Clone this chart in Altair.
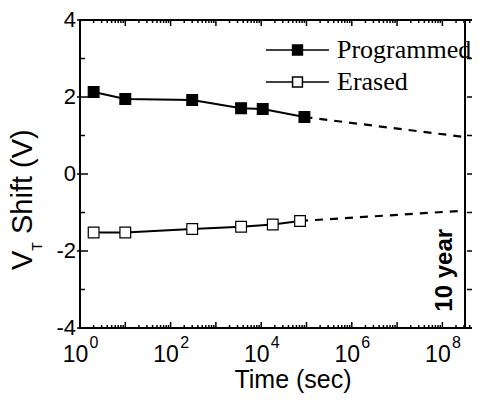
import altair as alt
import pandas as pd

# ---------------- data ----------------
series = ["Programmed", "Erased"]
prog_t = [2, 10, 300, 3600, 10800, 90000]
prog_v = [2.13, 1.95, 1.92, 1.71, 1.69, 1.48]
eras_t = [2, 10, 300, 3600, 18000, 72000]
eras_v = [-1.52, -1.52, -1.43, -1.37, -1.31, -1.22]
ten_year = 3.156e8                      # 10 years in seconds
extrap_prog = 0.96                      # dashed extrapolation end values
extrap_eras = -0.95
ten_year_label = "10 year"
ten_year_label_v = -2.5

x_title = "Time (sec)"
x_label_exps = [0, 2, 4, 6, 8]
x_decade_exps = [0, 1, 2, 3, 4, 5, 6, 7, 8]
minor_mult = [2, 3, 4, 5, 6, 7, 8, 9]
y_major = [-4, -2, 0, 2, 4]
y_labels = ["-4", "-2", "0", "2", "4"]
y_minor = [-3, -1, 1, 3]
y_right = [-3, -2, -1, 0, 1, 2, 3]
y_range = [-4, 4]

# ---------------- layout ----------------
W, H = 392, 308
DECADE = 45.3
X_MAX = 10 ** (W / DECADE)
FONT = "Liberation Sans"
SERIF = "Liberation Serif"

xs = alt.Scale(type="log", domain=[1, X_MAX], nice=False)
ys = alt.Scale(domain=y_range, nice=False, zero=False)

pts = pd.DataFrame({
    "t": prog_t + eras_t,
    "v": prog_v + eras_v,
    "series": [series[0]] * len(prog_t) + [series[1]] * len(eras_t),
})
ext = pd.DataFrame({
    "t": [prog_t[-1], ten_year, eras_t[-1], ten_year],
    "v": [prog_v[-1], extrap_prog, eras_v[-1], extrap_eras],
    "series": [series[0], series[0], series[1], series[1]],
})

X0 = lambda: alt.X("t:Q", scale=xs, axis=None)
Y0 = lambda: alt.Y("v:Q", scale=ys, axis=None)

lines = alt.Chart(pts).mark_line(color="black", strokeWidth=2).encode(
    x=X0(), y=Y0(), detail="series:N")

dashed = alt.Chart(ext).mark_line(color="black", strokeWidth=2.2, strokeDash=[8, 7]).encode(
    x=X0(), y=Y0(), detail="series:N")

LEG_PATH = "M-1.85,0H-0.29M0.29,0H1.85M-0.29,-0.29H0.29V0.29H-0.29Z"
points = alt.Chart(pts).mark_point(shape="square", filled=True, size=115, stroke="black",
                                   strokeWidth=1.2, opacity=1).encode(
    x=X0(), y=Y0(),
    fill=alt.Fill("series:N", scale=alt.Scale(domain=series, range=["black", "white"]),
                  legend=alt.Legend(title=None, orient="none", legendX=199.5, legendY=12,
                                    symbolType=LEG_PATH, symbolSize=1156,
                                    symbolStrokeColor="black", symbolStrokeWidth=1.5,
                                    symbolOpacity=1,
                                    labelFont=SERIF, labelFontSize=26, labelColor="black",
                                    labelOffset=21.5, rowPadding=1, padding=0)),
)

# ---------------- frame, ticks ----------------
xdec = pd.DataFrame({"t": [10 ** e for e in x_decade_exps]})
xmin = pd.DataFrame({"t": [m * 10 ** e for e in x_decade_exps for m in minor_mult
                           if m * 10 ** e <= X_MAX]})
ymaj = pd.DataFrame({"v": y_major, "label": y_labels})
one = pd.DataFrame({"a": [0]})


def ytick_segments(values, px_from, px_to):
    """Short horizontal tick segments at given y values, spanning pixel offsets on the log x scale."""
    rows = []
    for v in values:
        for px in (px_from, px_to):
            rows.append({"t": 10 ** (px / DECADE), "v": v, "g": v})
    return pd.DataFrame(rows)


fr = dict(color="black", strokeWidth=2)
left_dom = alt.Chart(one).mark_rule(**fr).encode(x=alt.value(0), y=alt.value(-1), y2=alt.value(H + 1))
bot_dom = alt.Chart(one).mark_rule(**fr).encode(y=alt.value(H), x=alt.value(-1), x2=alt.value(W))
top_dom = alt.Chart(one).mark_rule(**fr).encode(y=alt.value(0), x=alt.value(-1), x2=alt.value(W))

tk = dict(color="black", strokeWidth=1.5)
bot_major = alt.Chart(xdec).mark_rule(**tk).encode(x=X0(), y=alt.value(H), y2=alt.value(H - 6))
bot_minor = alt.Chart(xmin).mark_rule(**tk).encode(x=X0(), y=alt.value(H), y2=alt.value(H - 3))
top_major = alt.Chart(xdec).mark_rule(**tk).encode(x=X0(), y=alt.value(0), y2=alt.value(6))
top_minor = alt.Chart(xmin).mark_rule(**tk).encode(x=X0(), y=alt.value(0), y2=alt.value(3))
left_major = alt.Chart(ytick_segments(y_major, -3, 8)).mark_line(**tk).encode(
    x=X0(), y=Y0(), detail="g:N")
left_minor = alt.Chart(ytick_segments(y_minor, 0, 5)).mark_line(**tk).encode(
    x=X0(), y=Y0(), detail="g:N")
right_t = alt.Chart(ytick_segments(y_right, W - 5, W)).mark_line(**tk).encode(
    x=X0(), y=Y0(), detail="g:N")

# ---------------- 10 year marker ----------------
ty_seg = pd.DataFrame({"t": [ten_year, ten_year], "v": y_range})
ty_line = alt.Chart(ty_seg).mark_line(color="black", strokeWidth=2).encode(x=X0(), y=Y0())
ty = pd.DataFrame({"t": [ten_year], "v": [ten_year_label_v], "label": [ten_year_label]})
ty_text = alt.Chart(ty).mark_text(angle=270, align="center", baseline="alphabetic", dy=-13,
                                  font=FONT, fontSize=24, fontWeight="bold", color="black").encode(
    x=X0(), y=Y0(), text="label:N")

# ---------------- tick labels ----------------
xl = pd.DataFrame({"t": [10 ** e for e in x_label_exps],
                   "base": ["10"] * len(x_label_exps),
                   "sup": [str(e) for e in x_label_exps]})
xl_base = alt.Chart(xl).mark_text(align="center", baseline="alphabetic", dx=-4.5,
                                  font=FONT, fontSize=23, color="black").encode(
    x=X0(), y=alt.value(H + 34), text="base:N")
xl_sup = alt.Chart(xl).mark_text(align="center", baseline="alphabetic", dx=14,
                                 font=FONT, fontSize=16, color="black").encode(
    x=X0(), y=alt.value(H + 20), text="sup:N")
yl = alt.Chart(ymaj).mark_text(align="right", baseline="middle", font=FONT, fontSize=22,
                               color="black").encode(
    y=Y0(), x=alt.value(-4), text="label:N")

# ---------------- axis titles ----------------
xt = alt.Chart(one).mark_text(text=x_title, align="center", baseline="alphabetic",
                              font=FONT, fontSize=25, color="black").encode(
    x=alt.value(213), y=alt.value(H + 60))
yt_v = alt.Chart(one).mark_text(text="V", angle=270, align="left", baseline="alphabetic",
                                font=FONT, fontSize=29, color="black").encode(
    x=alt.value(-48), y=alt.value(250))
yt_t = alt.Chart(one).mark_text(text="T", angle=270, align="left", baseline="alphabetic",
                                font=FONT, fontSize=14, color="black").encode(
    x=alt.value(-38), y=alt.value(230.7))
yt_s = alt.Chart(one).mark_text(text="Shift (V)", angle=270, align="left", baseline="alphabetic",
                                font=FONT, fontSize=29, color="black").encode(
    x=alt.value(-48), y=alt.value(214))

chart = alt.layer(
    lines, dashed, ty_line, points,
    left_dom, bot_dom, top_dom,
    bot_major, bot_minor, top_major, top_minor, left_major, left_minor, right_t,
    ty_text, xl_base, xl_sup, yl, xt, yt_v, yt_t, yt_s,
).properties(
    width=W, height=H,
    padding={"left": 72, "top": 12, "right": 13, "bottom": 66},
    autosize="none",
).configure_view(stroke=None)

chart.save("out.html", embed_options={"renderer": "svg", "actions": False})
